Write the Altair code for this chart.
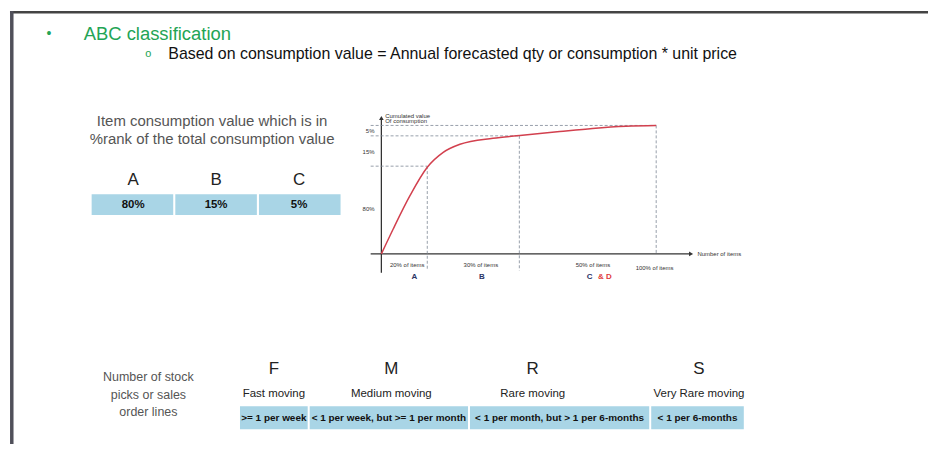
import altair as alt
import pandas as pd

# ---------------- content / values ----------------
title_text = "ABC classification"
subtitle_text = "Based on consumption value = Annual forecasted qty or consumption * unit price"

abc_intro = ["Item consumption value which is in", "%rank of the total consumption value"]
abc_classes = ["A", "B", "C"]
abc_share = ["80%", "15%", "5%"]

# cumulative consumption curve (x: % of items, y: % of cumulated value)
curve_items = [0, 4.3, 10.5, 16.7, 22.5, 28.6, 40.6, 50.4, 64.9, 76.8, 89.1, 100]
curve_value = [0, 19.4, 45.7, 67.4, 79.0, 85.3, 90.0, 92.2, 95.3, 97.7, 99.4, 100]

# class boundaries on the curve
boundary_items = [16.7, 50.2, 100]
boundary_value = [68.3, 91.9, 100]

y_tick_labels = ["80%", "15%", "5%"]
y_tick_pos = [34.8, 79.7, 95.7]

x_band_labels = ["20% of items", "30% of items", "50% of items", "100% of items"]
x_band_pos = [9.4, 36.2, 77.0, 99.4]
x_band_y = [-8.5, -8.5, -8.5, -10.9]

seg_labels = ["A", "B", "C"]
seg_pos = [12.0, 36.6, 75.8]
seg_extra = ["& D"]
seg_extra_pos = [81.3]

fmrs_intro = ["Number of stock", "picks or sales", "order lines"]
fmrs_classes = ["F", "M", "R", "S"]
fmrs_names = ["Fast moving", "Medium moving", "Rare moving", "Very Rare moving"]
fmrs_freq = [">= 1 per week", "< 1 per week, but >= 1 per month",
             "< 1 per month, but > 1 per 6-months", "< 1 per 6-months"]

# ---------------- layout (pixels inside the chart) ----------------
W, H = 922, 435
SANS = "Liberation Sans, Arial, Helvetica, sans-serif"
GREEN = "#23a455"
BLUE_CELL = "#a9d5e6"

xs = alt.Scale(domain=[0, 100], range=[373, 649], nice=False, zero=False)
ys = alt.Scale(domain=[0, 100], range=[244, 115], nice=False, zero=False)

fmrs_edges = [(231, 299), (301, 460), (462, 642), (644, 737)]
fmrs_head_x = [265, 383, 525, 692]

one = alt.Data(values=[{}])


def note(text, x, y, size, color, font=SANS, weight="normal", align="center"):
    return alt.Chart(one).mark_text(
        text=text, fontSize=size, color=color, font=font, fontWeight=weight,
        align=align, baseline="middle"
    ).encode(x=alt.value(x), y=alt.value(y))


layers = []

# borders of the slide
layers.append(alt.Chart(one).mark_rule(color="#444444", strokeWidth=2.5).encode(
    x=alt.value(0), x2=alt.value(W), y=alt.value(1.2)))
layers.append(alt.Chart(one).mark_rule(color="#50505a", strokeWidth=3.5).encode(
    x=alt.value(1.8), y=alt.value(0), y2=alt.value(H)))

# title lines
layers.append(note("•", 39, 23, 14, GREEN))
layers.append(note(title_text, 74, 23, 18.5, GREEN, align="left"))
layers.append(note("o", 139, 43, 11, GREEN))
layers.append(note(subtitle_text, 159, 43, 16, "#111111", align="left"))

# ---- ABC table ----
layers.append(note(abc_intro[0], 203, 111, 15, "#555555"))
layers.append(note(abc_intro[1], 203, 129, 15, "#555555"))

abc_df = pd.DataFrame({"cls": abc_classes, "share": abc_share})
xb = alt.Scale(domain=abc_classes, range=[82, 332], paddingInner=0.025, paddingOuter=0)
abc_base = alt.Chart(abc_df)
layers.append(abc_base.mark_rect(color=BLUE_CELL).encode(
    x=alt.X("cls:N", scale=xb, axis=None), y=alt.value(184), y2=alt.value(205)))
layers.append(abc_base.mark_text(font=SANS, fontSize=11.5, fontWeight="bold", color="#111111").encode(
    x=alt.X("cls:N", scale=xb, axis=None), y=alt.value(195), text="share:N"))
layers.append(abc_base.mark_text(font=SANS, fontSize=17, color="#222222").encode(
    x=alt.X("cls:N", scale=xb, axis=None), y=alt.value(169.5), text="cls:N"))

# ---- cumulative curve diagram ----
axis_color = "#333333"
layers.append(alt.Chart(pd.DataFrame({"x0": [-3.9], "x1": [112.7], "y": [0]})).mark_rule(
    color=axis_color, strokeWidth=1.3).encode(
    x=alt.X("x0:Q", scale=xs, axis=None), x2="x1:Q", y=alt.Y("y:Q", scale=ys, axis=None)))
layers.append(alt.Chart(pd.DataFrame({"x": [0], "y0": [-14.7], "y1": [105.8]})).mark_rule(
    color=axis_color, strokeWidth=1.3).encode(
    x=alt.X("x:Q", scale=xs, axis=None), y=alt.Y("y0:Q", scale=ys, axis=None), y2="y1:Q"))
layers.append(alt.Chart(pd.DataFrame({"x": [112.7], "y": [0]})).mark_point(
    shape="triangle-right", filled=True, size=22, color=axis_color, opacity=1).encode(
    x=alt.X("x:Q", scale=xs, axis=None), y=alt.Y("y:Q", scale=ys, axis=None)))
layers.append(alt.Chart(pd.DataFrame({"x": [0], "y": [105.8]})).mark_point(
    shape="triangle-up", filled=True, size=22, color=axis_color, opacity=1).encode(
    x=alt.X("x:Q", scale=xs, axis=None), y=alt.Y("y:Q", scale=ys, axis=None)))

bnd = pd.DataFrame({"items": boundary_items, "value": boundary_value,
                    "bottom": [-12, -13, 0], "left": [-3.9, -3.9, -3.9]})
dash = dict(color="#7d8795", strokeDash=[3, 2], strokeWidth=0.8)
layers.append(alt.Chart(bnd).mark_rule(**dash).encode(
    x=alt.X("items:Q", scale=xs, axis=None),
    y=alt.Y("value:Q", scale=ys, axis=None), y2="bottom:Q"))
layers.append(alt.Chart(bnd).mark_rule(**dash).encode(
    x=alt.X("left:Q", scale=xs, axis=None), x2="items:Q",
    y=alt.Y("value:Q", scale=ys, axis=None)))

curve_df = pd.DataFrame({"items": curve_items, "value": curve_value})
layers.append(alt.Chart(curve_df).mark_line(color="#d2404e", strokeWidth=1.5, interpolate="monotone").encode(
    x=alt.X("items:Q", scale=xs, axis=None), y=alt.Y("value:Q", scale=ys, axis=None)))

tiny = dict(font=SANS, fontSize=6, color="#333333")
layers.append(alt.Chart(pd.DataFrame({"t": y_tick_labels, "y": y_tick_pos, "x": [-2.5] * 3})).mark_text(
    align="right", **tiny).encode(
    x=alt.X("x:Q", scale=xs, axis=None), y=alt.Y("y:Q", scale=ys, axis=None), text="t:N"))
layers.append(alt.Chart(pd.DataFrame({"t": x_band_labels, "x": x_band_pos, "y": x_band_y})).mark_text(
    **tiny).encode(
    x=alt.X("x:Q", scale=xs, axis=None), y=alt.Y("y:Q", scale=ys, axis=None), text="t:N"))
layers.append(alt.Chart(pd.DataFrame({"t": ["Number of items"], "x": [115], "y": [0]})).mark_text(
    align="left", **tiny).encode(
    x=alt.X("x:Q", scale=xs, axis=None), y=alt.Y("y:Q", scale=ys, axis=None), text="t:N"))
layers.append(alt.Chart(pd.DataFrame({"t": ["Cumulated value", "Of consumption"], "x": [1.4, 1.4],
                                      "y": [107.6, 103.6]})).mark_text(
    align="left", **tiny).encode(
    x=alt.X("x:Q", scale=xs, axis=None), y=alt.Y("y:Q", scale=ys, axis=None), text="t:N"))
layers.append(alt.Chart(pd.DataFrame({"t": seg_labels, "x": seg_pos, "y": [-17.8] * 3})).mark_text(
    font=SANS, fontSize=8, fontWeight="bold", color="#2b3566").encode(
    x=alt.X("x:Q", scale=xs, axis=None), y=alt.Y("y:Q", scale=ys, axis=None), text="t:N"))
layers.append(alt.Chart(pd.DataFrame({"t": seg_extra, "x": seg_extra_pos, "y": [-17.8]})).mark_text(
    font=SANS, fontSize=8, fontWeight="bold", color="#e0393a").encode(
    x=alt.X("x:Q", scale=xs, axis=None), y=alt.Y("y:Q", scale=ys, axis=None), text="t:N"))

# ---- FMRS table ----
for i, line in enumerate(fmrs_intro):
    layers.append(note(line, 139, 368 + 17.5 * i, 12.5, "#555555"))

fm_df = pd.DataFrame({
    "cls": fmrs_classes, "name": fmrs_names, "freq": fmrs_freq,
    "x0": [e[0] for e in fmrs_edges], "x1": [e[1] for e in fmrs_edges],
    "xc": [(e[0] + e[1]) / 2 for e in fmrs_edges], "hx": fmrs_head_x,
})
fm = alt.Chart(fm_df)
layers.append(fm.mark_rect(color=BLUE_CELL).encode(
    x=alt.X("x0:Q", scale=None), x2="x1:Q", y=alt.value(397), y2=alt.value(420)))
layers.append(fm.mark_text(font=SANS, fontSize=10, fontWeight="bold", color="#111111").encode(
    x=alt.X("xc:Q", scale=None), y=alt.value(408.5), text="freq:N"))
layers.append(fm.mark_text(font=SANS, fontSize=17, color="#222222").encode(
    x=alt.X("hx:Q", scale=None), y=alt.value(360), text="cls:N"))
layers.append(fm.mark_text(font=SANS, fontSize=11.5, color="#222222").encode(
    x=alt.X("hx:Q", scale=None), y=alt.value(385), text="name:N"))

chart = alt.layer(*layers).resolve_scale(x="independent", y="independent").properties(
    width=W, height=H, padding=0, background="white"
).configure_view(stroke=None)

chart.save("out.html", embed_options={"renderer": "svg", "actions": False})
